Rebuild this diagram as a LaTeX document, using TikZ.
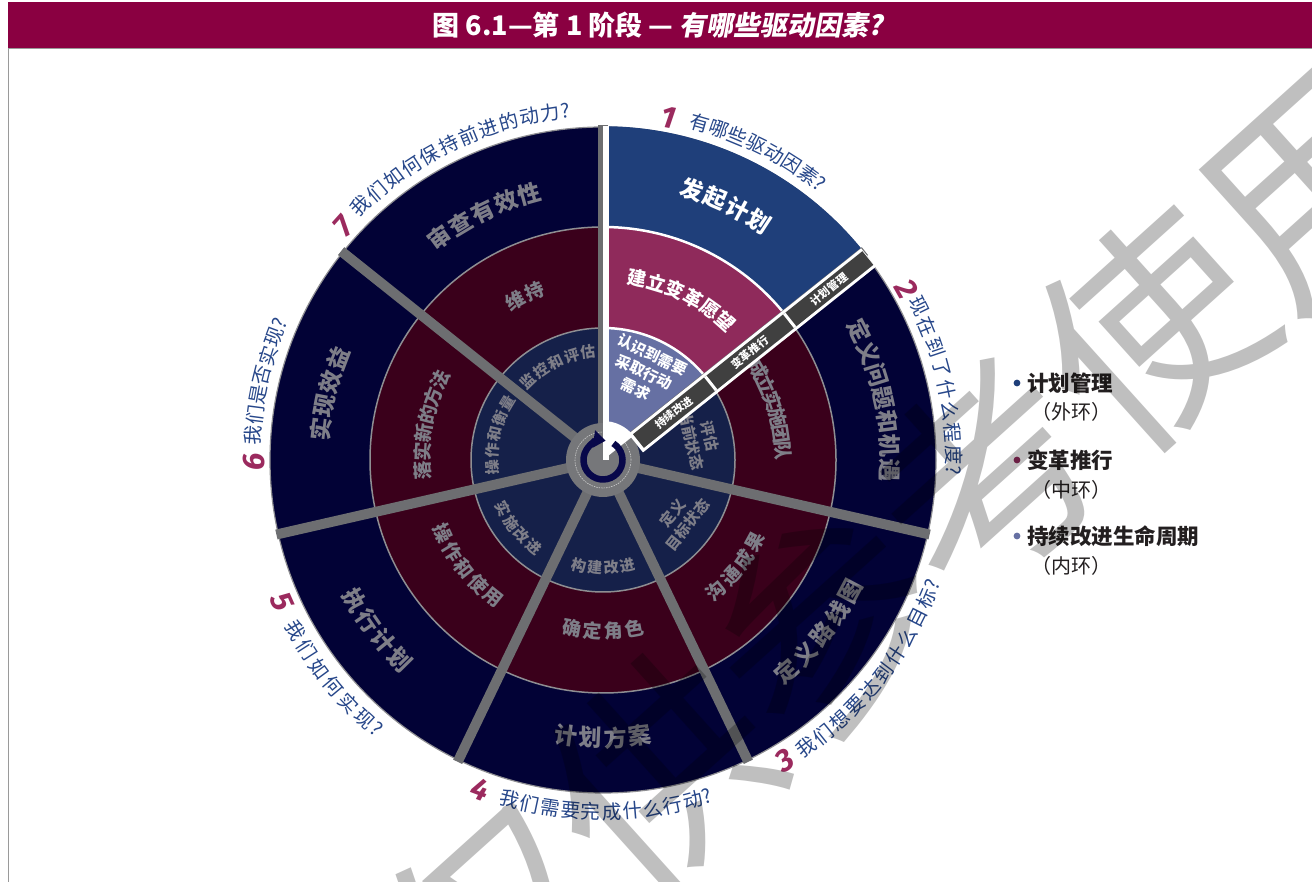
\documentclass[tikz,border=0pt]{standalone}
\usepackage{fontspec}
\setmainfont{Noto Sans CJK SC}
\newfontfamily\slantcjk{Noto Sans CJK SC}[FakeSlant=0.18]
\newfontfamily\numfont{Fira Sans}
\usetikzlibrary{arrows.meta}
\definecolor{titlebar}{HTML}{8A0041}
\definecolor{navyA}{HTML}{020236}
\definecolor{maroonA}{HTML}{3A001B}
\definecolor{innerA}{HTML}{152049}
\definecolor{blueS}{HTML}{1F3F7A}
\definecolor{magS}{HTML}{8F2A5B}
\definecolor{lavS}{HTML}{6670A3}
\definecolor{sepgray}{HTML}{6D6E71}
\definecolor{hubgray}{HTML}{76777A}
\definecolor{ringline}{HTML}{8E8E92}
\definecolor{txtgray}{HTML}{7E7E88}
\definecolor{qblue}{HTML}{27478A}
\definecolor{nummag}{HTML}{9B2A5E}
\definecolor{bandgray}{HTML}{404040}
\definecolor{arrownavy}{HTML}{08084A}
\definecolor{legtxt}{HTML}{231F20}
\definecolor{framegray}{HTML}{9A9A9A}

% text along an arc, centred on an angle
\newcommand\arcT[7]{% name, style, radius, mid angle, step, n, chars
  \foreach \ch [count=\i] in {#7}{%
    \pgfmathsetmacro\aA{#4+#5*((#6+1)/2-\i)}%
    \pgfmathsetmacro\rR{\aA-90}%
    \node[#2,rotate=\rR] (#1-\i) at (\aA:#3) {\ch};}}
\newcommand\arcB[7]{%
  \foreach \ch [count=\i] in {#7}{%
    \pgfmathsetmacro\aA{#4-#5*((#6+1)/2-\i)}%
    \pgfmathsetmacro\rR{\aA+90}%
    \node[#2,rotate=\rR] (#1-\i) at (\aA:#3) {\ch};}}
% question texts, from first character angle; a final "?" sits closer
\newcommand\qT[5]{%
  \foreach \ch [count=\i] in {#5}{%
    \pgfmathsetmacro\aA{#3-#4*(\i-1)}%
    \ifnum\strcmp{\ch}{?}=0 \pgfmathsetmacro\aA{\aA+0.3*#4}\fi
    \pgfmathsetmacro\rR{\aA-90}%
    \node[qtxt,rotate=\rR] (#1-\i) at (\aA:#2) {\ch};}}
\newcommand\qB[5]{%
  \foreach \ch [count=\i] in {#5}{%
    \pgfmathsetmacro\aA{#3+#4*(\i-1)}%
    \ifnum\strcmp{\ch}{?}=0 \pgfmathsetmacro\aA{\aA-0.3*#4}\fi
    \pgfmathsetmacro\rR{\aA+90}%
    \node[qtxt,rotate=\rR] (#1-\i) at (\aA:#2) {\ch};}}
\newcommand\annsec[5]{% style, r in, r out, a1, a2
  \fill[#1] (#4:#3) arc[start angle=#4, end angle=#5, radius=#3] -- (#5:#2) arc[start angle=#5, end angle=#4, radius=#2] -- cycle;}

\begin{document}
\begin{tikzpicture}[x=1pt,y=1pt,
  outerT/.style={font=\fontsize{23}{25}\selectfont\bfseries, text=txtgray, inner sep=0pt},
  outerW/.style={outerT, text=white},
  midT/.style={font=\fontsize{19}{21}\selectfont\bfseries, text=txtgray, inner sep=0pt},
  midW/.style={midT, text=white},
  inT/.style={font=\fontsize{15}{19}\selectfont\bfseries, text=txtgray, inner sep=0pt},
  inW/.style={inT, text=white},
  qtxt/.style={font=\fontsize{19.5}{21}\selectfont, text=qblue, inner sep=0pt},
  qnum/.style={font=\numfont\fontsize{31}{31}\selectfont\bfseries\itshape, text=nummag, inner sep=0pt},
  bandtxt/.style={font=\fontsize{11}{12}\selectfont\bfseries, text=white, inner sep=0pt, rotate=38.571},
  legB/.style={font=\fontsize{21.5}{24}\selectfont\bfseries, text=legtxt, anchor=west, inner sep=0pt},
  legP/.style={font=\fontsize{20}{24}\selectfont, text=legtxt, anchor=west, inner sep=0pt},
  sepline/.style={sepgray, line width=10pt},
  ringedge/.style={ringline, line width=1.5pt}]

\useasboundingbox (0,0) rectangle (1312,882);
\fill[white] (0,0) rectangle (1312,882);

% title bar and frame
\fill[titlebar] (8,834) rectangle (1312,880);
\draw[framegray, line width=1pt] (8,833.5) -- (1312,833.5);
\draw[framegray, line width=1.2pt] (8.5,0) -- (8.5,834);
\node[font=\fontsize{27}{28}\selectfont\bfseries, text=white, inner sep=0pt] (title) at (658,857)
  {图 6.1—第 1 阶段 — {\slantcjk\bfseries 有哪些驱动因素?}};

\begin{scope}[shift={(603,422)}]
  % rings
  \fill[navyA] (0,0) circle[radius=333pt];
  \draw[ringline, line width=1.2pt] (0,0) circle[radius=333pt];
  \fill[maroonA] (0,0) circle[radius=233pt];
  \draw[ringedge] (0,0) circle[radius=233pt];
  \fill[innerA] (0,0) circle[radius=132pt];
  \draw[ringedge] (0,0) circle[radius=132pt];

  % segment 1 highlighted
  \annsec{blueS}{233pt}{333.8pt}{38.571}{90}
  \annsec{magS}{132pt}{233pt}{38.571}{90}
  \annsec{lavS}{37pt}{132pt}{38.571}{90}
  \draw[white, line width=2.5pt] (38.571:233pt) arc[start angle=38.571, end angle=90, radius=233pt];
  \draw[white, line width=2.5pt] (38.571:132pt) arc[start angle=38.571, end angle=90, radius=132pt];

  % outer ring labels
  \arcT{o1}{outerW}{285pt}{64.3}{5.0}{4}{发,起,计,划}
  \arcT{o2}{outerT}{287pt}{12.4}{4.8}{7}{定,义,问,题,和,机,遇}
  \arcB{o3}{outerT}{280pt}{-38.5}{5.3}{5}{定,义,路,线,图}
  \arcB{o4}{outerT}{278pt}{-90}{5.1}{4}{计,划,方,案}
  \arcB{o5}{outerT}{285pt}{-143}{5.0}{4}{执,行,计,划}
  \arcT{o6}{outerT}{284pt}{166.5}{4.9}{4}{实,现,效,益}
  \arcT{o7}{outerT}{276pt}{115.8}{5.2}{5}{审,查,有,效,性}

  % middle ring labels
  \arcT{m1}{midW}{185pt}{63.9}{6.2}{6}{建,立,变,革,愿,望}
  \arcT{m2}{midT}{180pt}{16.5}{5.4}{6}{成,立,实,施,团,队}
  \arcB{m3}{midT}{173pt}{-38.7}{6.9}{4}{沟,通,成,果}
  \arcB{m4}{midT}{171pt}{-90}{7.0}{4}{确,定,角,色}
  \arcB{m5}{midT}{176pt}{-142}{6.7}{5}{操,作,和,使,用}
  \arcT{m6}{midT}{181pt}{168.5}{5.9}{6}{落,实,新,的,方,法}
  \arcT{m7}{midT}{182pt}{115.5}{6.8}{2}{维,持}

  % inner ring labels
  \node[inW, align=center, rotate=-25.7] (in1) at (65:97pt) {认识到需要\\采取行动\\需求};
  \node[inT, align=center, rotate=-77.14] (in2) at (12.5:100pt) {评估\\当前状态};
  \node[inT, align=center, rotate=51.43] (in3) at (-37.5:97pt) {定义\\目标状态};
  \arcB{i4}{inT}{108pt}{-90}{8.7}{4}{构,建,改,进}
  \arcB{i5}{inT}{111pt}{-141.3}{8.3}{4}{实,施,改,进}
  \arcT{i6}{inT}{111pt}{166.4}{8.6}{5}{操,作,和,衡,量}
  \arcT{i7}{inT}{109pt}{115.7}{9.0}{5}{监,控,和,评,估}

  % separators
  \foreach \a in {90,38.571,-12.857,-64.286,-115.714,-167.143,141.429}
    \draw[sepline] (0,0) -- (\a:335pt);

  % hub
  \fill[hubgray] (0,0) circle[radius=37pt];
  \draw[gray!40, line width=0.6pt, dash pattern=on 1.5pt off 1pt] (0,0) circle[radius=28pt];

  % segment 1 white edge and hub wedge
  \fill[white] (0,0) rectangle (5.5pt,333.6pt);
  \fill[white] (0,0) -- (38.571:39pt) arc[start angle=38.571, end angle=90, radius=39pt] -- cycle;

  % band along segment 1 edge
  \begin{scope}[rotate=38.571]
    \fill[white] (36pt,-19pt) rectangle (333.8pt,4.5pt);
    \fill[bandgray] (39.5pt,-16pt) rectangle (333pt,1.5pt);
    \draw[white, line width=3pt] (132pt,-16pt) -- (132pt,1.5pt);
    \draw[white, line width=3pt] (233pt,-16pt) -- (233pt,1.5pt);
    \node[bandtxt] (band1) at (85pt,-7.25pt) {持续改进};
    \node[bandtxt] (band2) at (182pt,-7.25pt) {变革推行};
    \node[bandtxt] (band3) at (283pt,-7.25pt) {计划管理};
  \end{scope}

  % cycle arrow
  \draw[arrownavy, line width=6.5pt, -{Triangle[width=17pt,length=12pt]}]
    (58:19.5pt) arc[start angle=58, end angle=-278, radius=19.5pt];

  % outer questions
  \node[qnum, rotate=-10.8] (n1) at (79.2:349pt) {1};
  \qT{q1}{351pt}{74}{3.3}{有,哪,些,驱,动,因,素,?}
  \node[qnum, rotate=-60.6] (n2) at (29.4:349pt) {2};
  \qT{q2}{351pt}{26}{3.6}{现,在,到,了,什,么,程,度,?}
  \node[qnum, rotate=31.2] (n3) at (-58.8:351pt) {3};
  \qB{q3}{352pt}{-54.7}{3.5}{我,们,想,要,达,到,什,么,目,标,?}
  \node[qnum, rotate=-20.4] (n4) at (-110.4:351pt) {4};
  \qB{q4}{352pt}{-105.4}{3.36}{我,们,需,要,完,成,什,么,行,动,?}
  \node[qnum, rotate=-66.2] (n5) at (-156.2:351pt) {5};
  \qB{q5}{352pt}{-151}{3.67}{我,们,如,何,实,现,?}
  \node[qnum, rotate=90.3] (n6) at (180.3:349pt) {6};
  \qT{q6}{351pt}{175.9}{3.3}{我,们,是,否,实,现,?}
  \node[qnum, rotate=48] (n7) at (138:349pt) {7};
  \qT{q7}{351pt}{133.6}{3.5}{我,们,如,何,保,持,前,进,的,动,力,?}
\end{scope}

% legend
\fill[blueS] (1017,499) circle[radius=3.4pt];
\node[legB] (leg1) at (1027,499) {计划管理};
\node[legP] (leg1b) at (1031,470) {（外环）};
\fill[magS] (1017,422) circle[radius=3.4pt];
\node[legB] (leg2) at (1027,422) {变革推行};
\node[legP] (leg2b) at (1031,392) {（中环）};
\fill[lavS] (1017,346) circle[radius=3.4pt];
\node[legB] (leg3) at (1027,346) {持续改进生命周期};
\node[legP] (leg3b) at (1031,316) {（内环）};

% watermark
\node[font=\fontsize{220}{220}\selectfont, text=black, text opacity=0.25, rotate=42, inner sep=0pt] (wm) at (905,331) {仅供参考使用};
\end{tikzpicture}
\end{document}
